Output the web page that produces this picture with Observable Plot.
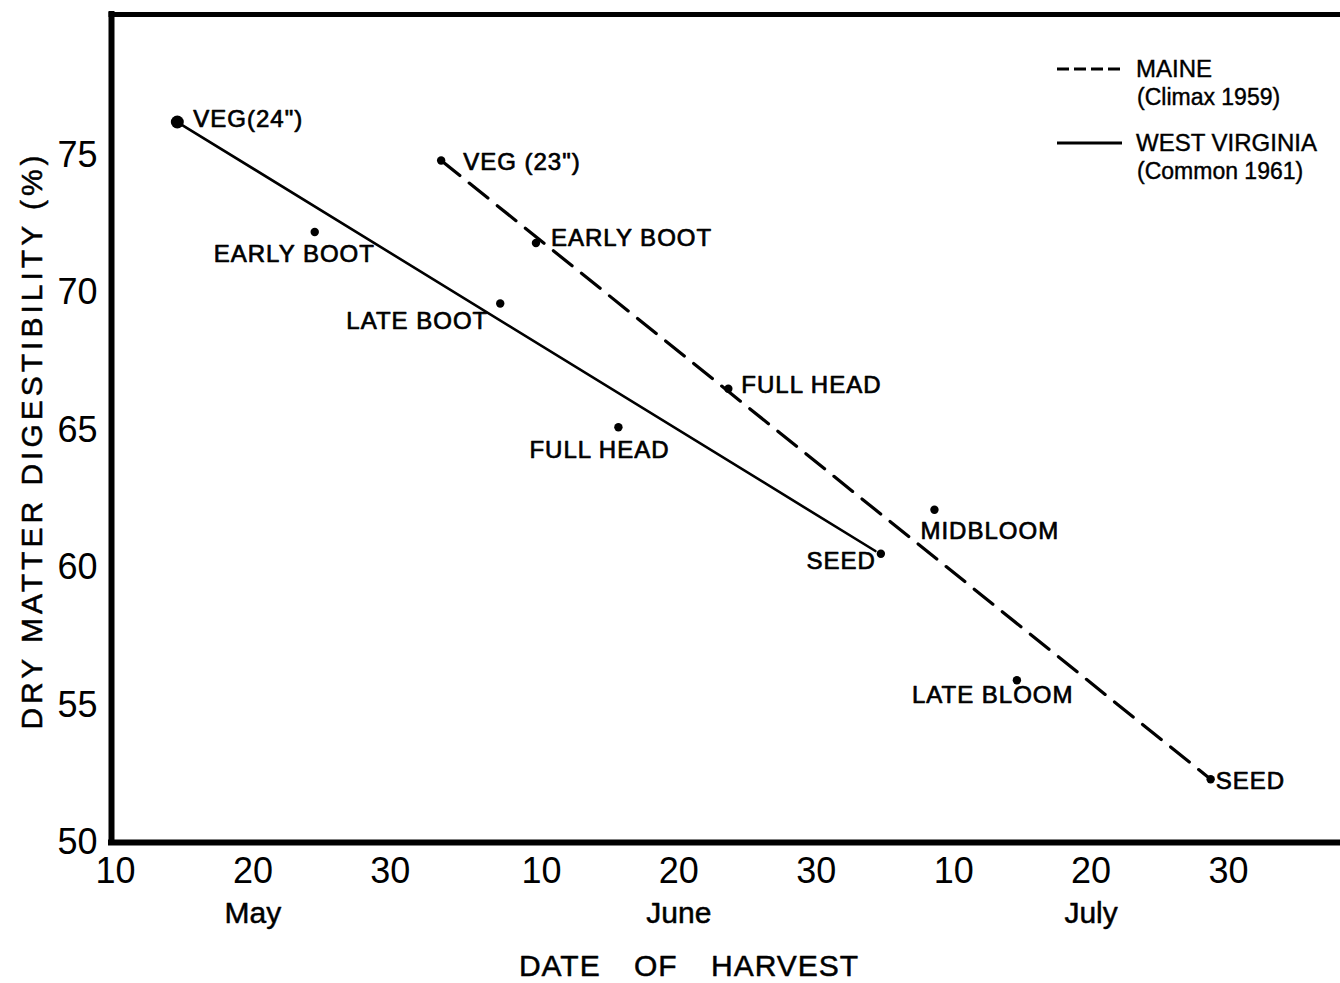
<!DOCTYPE html>
<html>
<head>
<meta charset="utf-8">
<script src="https://cdn.jsdelivr.net/npm/d3@7"></script>
<script src="https://cdn.jsdelivr.net/npm/@observablehq/plot@0.6"></script>
<style>
  html, body { margin: 0; padding: 0; background: #fff; }
  #wrap { position: relative; width: 1340px; height: 983px; overflow: hidden; }
  #chart { position: absolute; left: 0; top: 0; }
  #legend { position: absolute; left: 0; top: 0; width: 1340px; height: 983px; pointer-events: none;
            font-family: 'Liberation Sans', Arial, sans-serif; color: #000; }
  #legend .t { position: absolute; white-space: nowrap; line-height: 1; -webkit-text-stroke: 0.4px #000; }
</style>
</head>
<body>
<div id="wrap">
  <div id="chart"></div>
  <div id="legend"></div>
</div>
<script>
// ---------------- data ----------------
// x = day counted from May 1 (May 10 = 10, June 10 = 41, July 10 = 71)
const wvStages = ["VEG(24\")", "EARLY BOOT", "LATE BOOT", "FULL HEAD", "SEED"];
const wvDays   = [14.5, 24.5, 38.0, 46.6, 65.7];
const wvDig    = [76.2, 72.2, 69.6, 65.1, 60.5];
const wvFitDays = [14.5, 65.3];
const wvFitDig  = [76.2, 60.6];

const meStages = ["VEG (23\")", "EARLY BOOT", "FULL HEAD", "MIDBLOOM", "LATE BLOOM", "SEED"];
const meDays   = [33.7, 40.6, 54.6, 69.6, 75.6, 89.7];
const meDig    = [74.8, 71.8, 66.5, 62.1, 55.9, 52.3];
const meFitDays = [33.7, 89.7];
const meFitDig  = [74.8, 52.3];

const xTicks      = [10, 20, 30, 41, 51, 61, 71, 81, 91];
const xTickLabels = ["10", "20", "30", "10", "20", "30", "10", "20", "30"];
const monthDays   = [20, 51, 81];
const monthNames  = ["May", "June", "July"];
const yTicks      = [50, 55, 60, 65, 70, 75];

const seriesNames = ["MAINE", "WEST VIRGINIA"];
const seriesNotes = ["(Climax 1959)", "(Common 1961)"];

// ---------------- layout (not data) ----------------
const xDomain = [9.71, 99.15];
const yDomain = [50, 80.11];
// label offsets [dx, dy, anchor]
const wvLabelPos = [[16, -3, "start"], [-101, 22, "start"], [-12, 18, "end"], [-89, 23, "start"], [-5, 8, "end"]];
const meLabelPos = [[22, 2, "start"], [15, -5, "start"], [13, -3, "start"], [-14, 22, "start"], [-105, 15, "start"], [5, 2, "start"]];

const wvPts = wvDays.map((d, i) => ({day: d, dig: wvDig[i], stage: wvStages[i]}));
const mePts = meDays.map((d, i) => ({day: d, dig: meDig[i], stage: meStages[i]}));
const wvFit = wvFitDays.map((d, i) => ({day: d, dig: wvFitDig[i]}));
const meFit = meFitDays.map((d, i) => ({day: d, dig: meFitDig[i]}));
const months = monthDays.map((d, i) => ({day: d, name: monthNames[i]}));

const labelFont = 24;
const bolden = {fill: "#000", stroke: "#000", strokeWidth: 0.7};

const plot = Plot.plot({
  width: 1340,
  height: 983,
  marginLeft: 111,
  marginRight: 0,
  marginTop: 14,
  marginBottom: 141,
  x: {domain: xDomain},
  y: {domain: yDomain},
  style: {fontFamily: "'Liberation Sans', Arial, sans-serif", fontSize: "24px", color: "#000", background: "#fff", overflow: "visible"},
  marks: [
    // frame (left, bottom, top)
    Plot.ruleX([xDomain[0]], {stroke: "#000", strokeWidth: 6, strokeLinecap: "square"}),
    Plot.ruleY([yDomain[0]], {stroke: "#000", strokeWidth: 6, strokeLinecap: "square"}),
    Plot.ruleY([yDomain[1]], {stroke: "#000", strokeWidth: 5, strokeLinecap: "square"}),
    // axes
    Plot.axisX(xTicks, {tickSize: 0, tickPadding: 15, fontSize: 36, label: null,
      tickFormat: d => xTickLabels[xTicks.indexOf(d)]}),
    Plot.axisY(yTicks, {tickSize: 0, tickPadding: 14, fontSize: 36, label: null}),
    // month names
    Plot.text(months, {x: "day", text: "name", frameAnchor: "bottom", lineAnchor: "middle", dy: 71, fontSize: 30, ...bolden, strokeWidth: 0.5}),
    // axis titles
    Plot.text(["DATE OF HARVEST"], {frameAnchor: "bottom", lineAnchor: "middle", textAnchor: "middle", dx: -37, dy: 124, fontSize: 30, ...bolden, strokeWidth: 0.5}),
    Plot.text(["DRY MATTER DIGESTIBILITY (%)"], {frameAnchor: "left", textAnchor: "middle", lineAnchor: "middle", rotate: -90, dx: -79, dy: 12, fontSize: 30, ...bolden, strokeWidth: 0.5}),
    // regression lines
    Plot.line(wvFit, {x: "day", y: "dig", stroke: "#000", strokeWidth: 2.6}),
    Plot.line(meFit, {x: "day", y: "dig", stroke: "#000", strokeWidth: 3.2, strokeDasharray: "24,12"}),
    // points
    Plot.dot(wvPts, {x: "day", y: "dig", r: 4.2, fill: "#000", stroke: "none"}),
    Plot.dot([wvPts[0]], {x: "day", y: "dig", r: 6.5, fill: "#000", stroke: "none"}),
    Plot.dot(mePts, {x: "day", y: "dig", r: 4.2, fill: "#000", stroke: "none"}),
    // stage labels
    ...wvPts.map((d, i) => Plot.text([d], {x: "day", y: "dig", text: "stage",
        dx: wvLabelPos[i][0], dy: wvLabelPos[i][1], textAnchor: wvLabelPos[i][2], fontSize: labelFont, ...bolden})),
    ...mePts.map((d, i) => Plot.text([d], {x: "day", y: "dig", text: "stage",
        dx: meLabelPos[i][0], dy: meLabelPos[i][1], textAnchor: meLabelPos[i][2], fontSize: labelFont, ...bolden}))
  ]
});
document.getElementById("chart").appendChild(plot);

// letter / word spacing tweaks
d3.select(plot).selectAll("text").each(function() {
  const t = this.textContent;
  if (t === "DRY MATTER DIGESTIBILITY (%)") d3.select(this).style("letter-spacing", "4px");
  else if (t === "DATE OF HARVEST") d3.select(this).style("word-spacing", "24px").style("letter-spacing", "1px");
  else if (wvStages.includes(t) || meStages.includes(t)) d3.select(this).style("letter-spacing", "1px");
});

// legend (inside the plot area, top right)
const lg = document.getElementById("legend");
const legendStyles = [
  {dash: "12,5", y: 69},
  {dash: null, y: 143}
];
seriesNames.forEach((name, i) => {
  const s = legendStyles[i];
  const svgNS = "http://www.w3.org/2000/svg";
  const sv = document.createElementNS(svgNS, "svg");
  sv.setAttribute("width", 70); sv.setAttribute("height", 10);
  sv.style.position = "absolute"; sv.style.left = "1056px"; sv.style.top = (s.y - 5) + "px";
  const ln = document.createElementNS(svgNS, "line");
  ln.setAttribute("x1", 1); ln.setAttribute("x2", 66); ln.setAttribute("y1", 5); ln.setAttribute("y2", 5);
  ln.setAttribute("stroke", "#000"); ln.setAttribute("stroke-width", 3);
  if (s.dash) ln.setAttribute("stroke-dasharray", s.dash);
  sv.appendChild(ln);
  lg.appendChild(sv);
  const a = document.createElement("div");
  a.className = "t"; a.textContent = name;
  a.style.left = "1136px"; a.style.top = (s.y - 12) + "px"; a.style.fontSize = "24px";
  lg.appendChild(a);
  const b = document.createElement("div");
  b.className = "t"; b.textContent = seriesNotes[i];
  b.style.left = "1137px"; b.style.top = (s.y + 17) + "px"; b.style.fontSize = "23px";
  lg.appendChild(b);
});
</script>
</body>
</html>
